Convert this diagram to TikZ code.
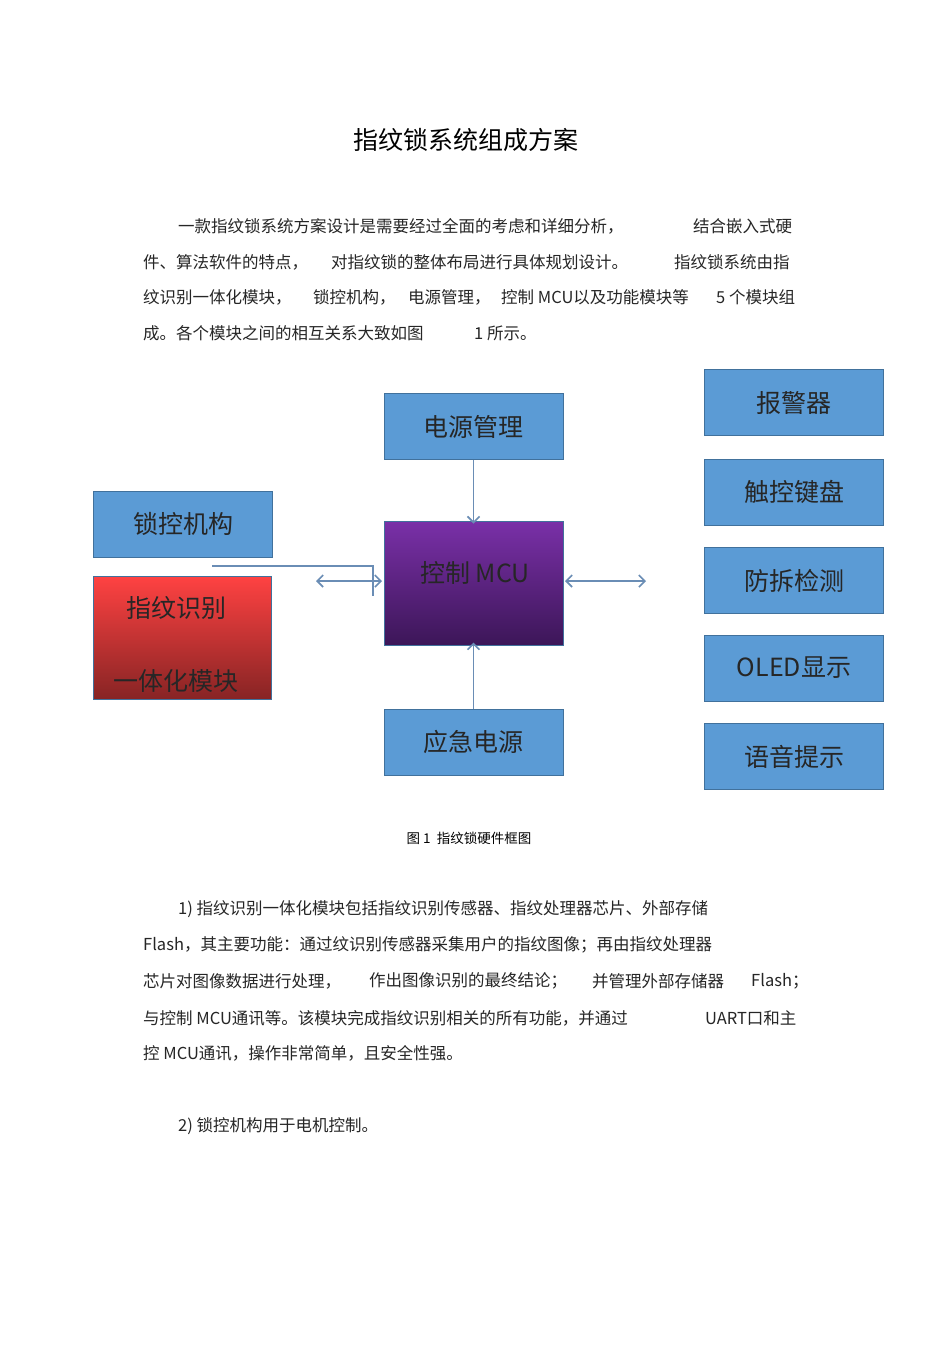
\documentclass[tikz,border=0pt]{standalone}
\usepackage{fontspec}
\usetikzlibrary{arrows.meta}
\setmainfont{Noto Sans CJK SC}
\definecolor{boxblue}{HTML}{5B9BD5}
\definecolor{boxedge}{HTML}{41719C}
\definecolor{arr}{HTML}{6A8DB5}
\begin{document}
\begin{tikzpicture}[x=1pt,y=-1pt,
  bx/.style={draw=boxedge,line width=1pt,fill=boxblue,minimum width=179pt,minimum height=66pt,font=\fontsize{25}{28}\selectfont,text=black!85},
  para/.style={anchor=west,inner sep=0pt,font=\fontsize{16.5}{18}\selectfont,text=black!85},
  con/.style={draw=arr,line width=1.6pt,-{Straight Barb[length=6pt,width=12pt]}},
  dcon/.style={draw=arr,line width=1.6pt,{Straight Barb[length=6pt,width=12pt]}-{Straight Barb[length=6pt,width=12pt]}}]
\useasboundingbox (0,0) rectangle (950,1345);
\fill[white] (0,0) rectangle (950,1345);
\node (title) at (466,140) {\fontsize{25}{28}\selectfont 指纹锁系统组成方案};
% paragraph 1
\node[para] (p1a) at (178,226) {一款指纹锁系统方案设计是需要经过全面的考虑和详细分析，};
\node[para] (p1b) at (693,226) {结合嵌入式硬};
\node[para] (p2a) at (143,262) {件、算法软件的特点，};
\node[para] (p2b) at (331,262) {对指纹锁的整体布局进行具体规划设计。};
\node[para] (p2c) at (674,262) {指纹锁系统由指};
\node[para] (p3a) at (143,297) {纹识别一体化模块，};
\node[para] (p3b) at (313,297) {锁控机构，};
\node[para] (p3c) at (408,297) {电源管理，};
\node[para] (p3d) at (501,297) {控制 MCU以及功能模块等};
\node[para] (p3e) at (716,297) {5 个模块组};
\node[para] (p4a) at (143,333) {成。各个模块之间的相互关系大致如图};
\node[para] (p4b) at (474,333) {1 所示。};
% diagram
\node[bx] (pwr) at (473.5,426.5) {电源管理};
\node[bx] (alarm) at (794,402.5) {报警器};
\node[bx] (touch) at (794,492) {触控键盘};
\node[bx] (tamper) at (794,580.5) {防拆检测};
\node[bx] (oled) at (794,668) {OLED显示};
\node[bx] (voice) at (794,756.5) {语音提示};
\node[bx] (lock) at (183,524) {锁控机构};
\node[bx] (emg) at (473.5,742) {应急电源};
\node[draw=boxedge,line width=1pt,top color={rgb,255:red,122;green,48;blue,168},bottom color={rgb,255:red,60;green,22;blue,88},minimum width=179pt,minimum height=124pt] (mcu) at (473.5,583) {};
\node[font=\fontsize{25}{28}\selectfont,text=black!85] (mcut) at (475,573) {控制 MCU};
\node[draw=boxedge,line width=1pt,top color={rgb,255:red,255;green,66;blue,66},bottom color={rgb,255:red,135;green,36;blue,36},minimum width=178pt,minimum height=123pt] (fp) at (182,637.5) {};
\node[font=\fontsize{25}{28}\selectfont,text=black!85] (fpt1) at (176,608) {指纹识别};
\node[font=\fontsize{25}{28}\selectfont,text=black!85] (fpt2) at (176,681) {一体化模块};
\coordinate (lin1) at (212,566);
\coordinate (lin2) at (373,566);
\coordinate (lin3) at (373,596);
\draw[draw=arr,line width=1.2pt] (lin1) -- (lin2) -- (lin3);
\coordinate (la) at (316,581);
\coordinate (lb) at (382,581);
\draw[dcon] (la) -- (lb);
\coordinate (ra) at (565,581);
\coordinate (rb) at (646,581);
\draw[dcon] (ra) -- (rb);
\draw[con] (pwr.south) -- ([yshift=-3pt]mcu.north);
\draw[con] (emg.north) -- ([yshift=3pt]mcu.south);
\node (cap) at (469,838) {\fontsize{13.5}{16}\selectfont 图 1\ \ 指纹锁硬件框图};
% paragraph 2
\node[para] (q1) at (178,909) {1) 指纹识别一体化模块包括指纹识别传感器、指纹处理器芯片、外部存储};
\node[para] (q2) at (143,945) {Flash，其主要功能：通过纹识别传感器采集用户的指纹图像；再由指纹处理器};
\node[para] (q3a) at (143,981) {芯片对图像数据进行处理，};
\node[para] (q3b) at (369,981) {作出图像识别的最终结论；};
\node[para] (q3c) at (592,981) {并管理外部存储器};
\node[para] (q3d) at (751,981) {Flash；};
\node[para] (q4a) at (143,1018) {与控制 MCU通讯等。该模块完成指纹识别相关的所有功能，并通过};
\node[para] (q4b) at (705,1018) {UART口和主};
\node[para] (q5) at (143,1053) {控 MCU通讯，操作非常简单，且安全性强。};
\node[para] (q6) at (178,1126) {2) 锁控机构用于电机控制。};
\end{tikzpicture}
\end{document}
